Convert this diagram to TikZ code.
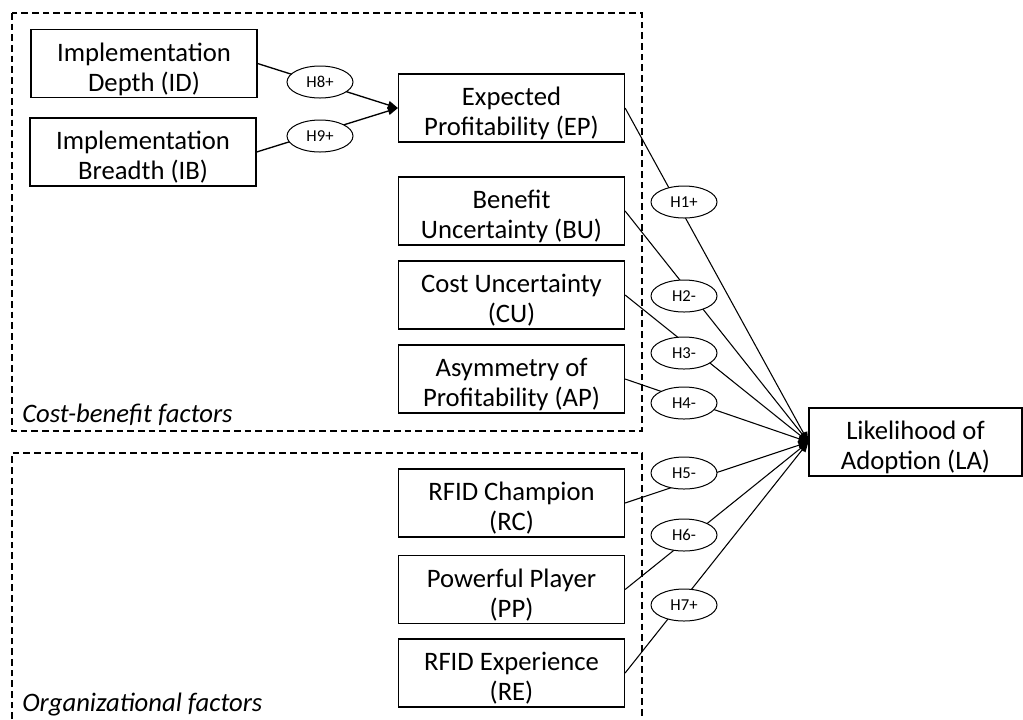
\documentclass[tikz,border=0pt]{standalone}
\usepackage{fontspec}
\setmainfont{Carlito}
\usetikzlibrary{arrows.meta,shapes.geometric}

% two centred lines, set a little below the middle of their box
\newcommand\factortext[2]{\raisebox{-5pt}[\height][\depth]{%
  \begin{tabular}{@{}c@{}}#1\\#2\end{tabular}}}

\begin{document}
\begin{tikzpicture}[x=0.75pt,y=-0.75pt,
  factor/.style={draw, line width=0.9pt, rectangle, minimum width=169.5pt,
    minimum height=51pt, inner sep=0pt, align=center,
    font=\fontsize{20}{22.5}\selectfont},
  hyp/.style={draw, ellipse, fill=white, line width=0.75pt,
    minimum width=49.5pt, minimum height=24pt, inner sep=0pt,
    font=\fontsize{12.5}{14}\selectfont},
  link/.style={line width=0.8pt, -{Triangle[length=7.5pt,width=6pt]}},
  sublink/.style={line width=1pt, -{Triangle[length=7.5pt,width=6pt]}},
  group/.style={line width=0.9pt, dash pattern=on 5pt off 3pt},
  grouplabel/.style={anchor=base west, inner sep=0pt,
    font=\fontsize{20}{22.5}\selectfont\itshape}
]
\useasboundingbox (0,0) rectangle (1023,719);

% factor groups
\draw[group] (12,13) rectangle (642,431);
\draw[group] (12,719) -- (12,453) -- (642,453) -- (642,719);
\node[grouplabel] (cbf) at (22,422) {Cost-benefit factors};
\node[grouplabel] (orgf) at (22,711) {Organizational factors};

% constructs
\node[factor] (ID) at (144,63.5) {\factortext{Implementation}{Depth (ID)}};
\node[factor] (IB) at (143,152) {\factortext{Implementation}{Breadth (IB)}};
\node[factor] (EP) at (511.5,108) {\factortext{Expected}{Profitability (EP)}};
\node[factor] (BU) at (511.5,211) {\factortext{Benefit}{Uncertainty (BU)}};
\node[factor] (CU) at (511.5,295) {\factortext{Cost Uncertainty}{(CU)}};
\node[factor] (AP) at (511.5,379) {\factortext{Asymmetry of}{Profitability (AP)}};
\node[factor] (RC) at (511.5,503) {\factortext{RFID Champion}{(RC)}};
\node[factor] (PP) at (511.5,589.5) {\factortext{Powerful Player}{(PP)}};
\node[factor] (RE) at (511.5,673) {\factortext{RFID Experience}{(RE)}};
\node[factor, minimum width=159.75pt] (LA) at (915.5,442) {\factortext{Likelihood of}{Adoption (LA)}};

% hypothesised paths
\draw[sublink] (ID.east) -- (EP.west);
\draw[sublink] (IB.east) -- (EP.west);
\foreach \s in {EP,BU,CU,AP,RC,PP,RE}
  \draw[link] (\s.east) -- (LA.west);

% hypothesis labels
\node[hyp] (H8) at (320,82) {H8+};
\node[hyp] (H9) at (320,136) {H9+};
\node[hyp] (H1) at (684,202) {H1+};
\node[hyp] (H2) at (684,296) {H2-};
\node[hyp] (H3) at (684,353) {H3-};
\node[hyp] (H4) at (684,403) {H4-};
\node[hyp] (H5) at (684,473) {H5-};
\node[hyp] (H6) at (684,535) {H6-};
\node[hyp] (H7) at (684,605) {H7+};
\end{tikzpicture}
\end{document}
